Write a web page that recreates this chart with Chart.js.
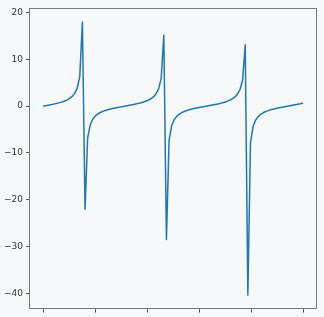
<!DOCTYPE html>
<html>
<head>
<meta charset="utf-8">
<script src="https://cdn.jsdelivr.net/npm/chart.js@4/dist/chart.umd.min.js"></script>
<style>
html,body{margin:0;padding:0;background:#f7f8fa;}
#wrap{width:324px;height:317px;position:relative;}
</style>
</head>
<body>
<div id="wrap"><canvas id="c" width="324" height="317"></canvas></div>
<script>
const xValues = [
0,0.1010,0.2020,0.3030,0.4040,0.5051,0.6061,0.7071,0.8081,0.9091,
1.0101,1.1111,1.2121,1.3131,1.4141,1.5152,1.6162,1.7172,1.8182,1.9192,
2.0202,2.1212,2.2222,2.3232,2.4242,2.5253,2.6263,2.7273,2.8283,2.9293,
3.0303,3.1313,3.2323,3.3333,3.4343,3.5354,3.6364,3.7374,3.8384,3.9394,
4.0404,4.1414,4.2424,4.3434,4.4444,4.5455,4.6465,4.7475,4.8485,4.9495,
5.0505,5.1515,5.2525,5.3535,5.4545,5.5556,5.6566,5.7576,5.8586,5.9596,
6.0606,6.1616,6.2626,6.3636,6.4646,6.5657,6.6667,6.7677,6.8687,6.9697,
7.0707,7.1717,7.2727,7.3737,7.4747,7.5758,7.6768,7.7778,7.8788,7.9798,
8.0808,8.1818,8.2828,8.3838,8.4848,8.5859,8.6869,8.7879,8.8889,8.9899,
9.0909,9.1919,9.2929,9.3939,9.4949,9.5960,9.6970,9.7980,9.8990,10
];
const yValues = [
0,0.1014,0.2048,0.3127,0.4276,0.5529,0.6931,0.8545,1.0464,1.2840,
1.5926,2.0200,2.6674,3.7947,6.3311,17.9526,-22.0282,-6.7829,-3.9595,-2.7532,
-2.0733,-1.6295,-1.3116,-1.0682,-0.8724,-0.7084,-0.5664,-0.4398,-0.3240,-0.2155,
-0.1118,-0.0103,0.0910,0.1941,0.3014,0.4155,0.5395,0.6780,0.8368,1.0251,
1.2571,1.5568,1.9688,2.5862,3.6424,5.9346,15.1469,-28.4900,-7.3024,-4.1382,
-2.8440,-2.1290,-1.6677,-1.3399,-1.0905,-0.8907,-0.7240,-0.5800,-0.4521,-0.3354,
-0.2263,-0.1222,-0.0206,0.0806,0.1835,0.2902,0.4035,0.5263,0.6631,0.8195,
1.0043,1.2309,1.5222,1.9197,2.5093,3.5010,5.5837,13.0973,-40.3042,-7.9061,
-4.3328,-2.9402,-2.1871,-1.7073,-1.3690,-1.1132,-0.9093,-0.7397,-0.5939,-0.4645,
-0.3469,-0.2372,-0.1326,-0.0308,0.0703,0.1729,0.2791,0.3915,0.5133,0.6484
];
const xTicks = [0,2,4,6,8,10];
const yTicks = [-40,-30,-20,-10,0,10,20];

const points = xValues.map((x,i)=>({x:x,y:yValues[i]}));

const framePlugin = {
  id:'frame',
  beforeDraw(chart){
    const ctx = chart.ctx;
    ctx.save();
    ctx.fillStyle = '#f7f8fa';
    ctx.fillRect(0,0,chart.width,chart.height);
    ctx.restore();
  },
  afterDatasetsDraw(chart){
    const a = chart.chartArea;
    const ctx = chart.ctx;
    ctx.save();
    ctx.strokeStyle = '#7a7a7a';
    ctx.lineWidth = 1;
    ctx.strokeRect(Math.round(a.left)-0.5, Math.round(a.top)+0.5, Math.round(a.right-a.left)+1, Math.round(a.bottom-a.top));
    ctx.restore();
  }
};

new Chart(document.getElementById('c'), {
  type:'line',
  data:{datasets:[{
    data:points,
    borderColor:'#1f77b4',
    borderWidth:1.5,
    pointRadius:0,
    tension:0,
    fill:false,
    borderJoinStyle:'round'
  }]},
  options:{
    responsive:false,
    animation:false,
    events:[],
    layout:{padding:{top:6,right:8,left:0,bottom:0}},
    plugins:{legend:{display:false},tooltip:{enabled:false}},
    scales:{
      x:{
        type:'linear',
        min:-0.5,max:10.5,
        afterBuildTicks(s){ s.ticks = xTicks.map(v=>({value:v})); },
        afterFit(s){ s.height = 7; },
        border:{display:false},
        grid:{drawOnChartArea:false,drawTicks:true,tickLength:4,color:'#555'},
        ticks:{callback:()=>'',padding:0}
      },
      y:{
        type:'linear',
        min:-43.22,max:20.86,
        afterBuildTicks(s){ s.ticks = yTicks.map(v=>({value:v})); },
        afterFit(s){ s.width = 30; },
        border:{display:false},
        grid:{drawOnChartArea:false,drawTicks:true,tickLength:4,color:'#555'},
        ticks:{
          color:'#333',
          padding:3,
          font:{family:'DejaVu Sans',size:9},
          callback:(v)=> (v<0? '\u2212'+Math.abs(v) : String(v))
        }
      }
    }
  },
  plugins:[framePlugin]
});
</script>
</body>
</html>
